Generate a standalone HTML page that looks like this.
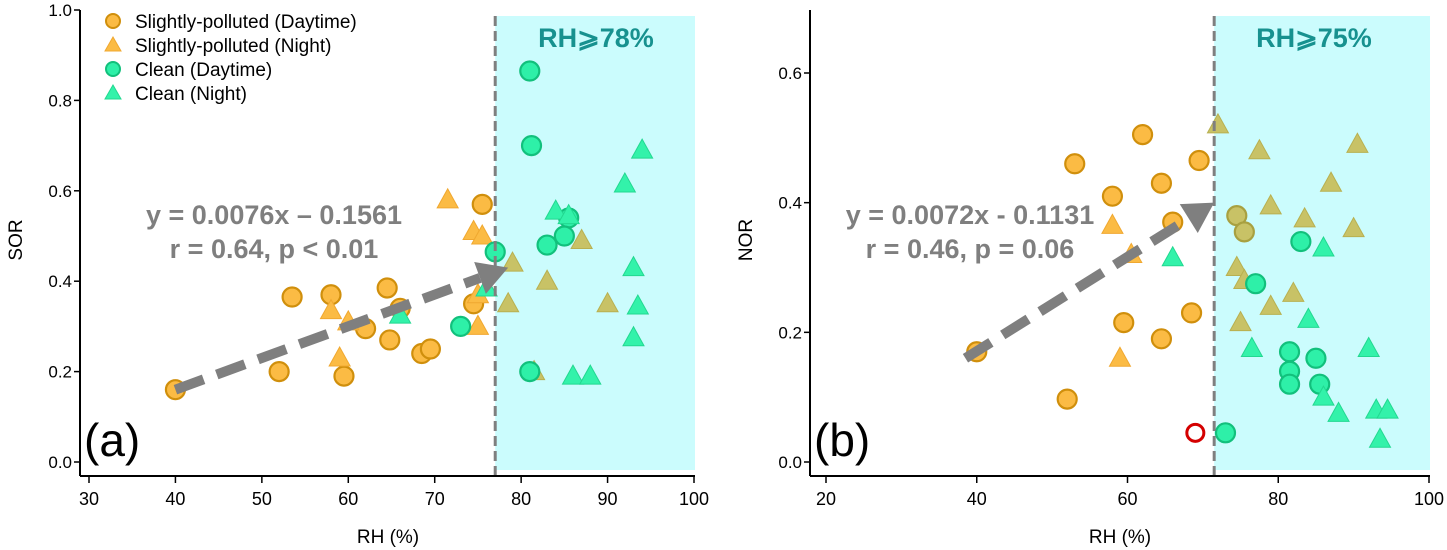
<!DOCTYPE html>
<html><head><meta charset="utf-8"><style>
body{margin:0;background:#fff;width:1447px;height:550px;overflow:hidden}
svg{display:block;font-family:"Liberation Sans",sans-serif}
</style></head><body>
<svg id="chart" width="1447" height="550"></svg>
<script>
// ---- Panel (a) data: [RH, SOR]
const aPolDay = [[40,0.16],[52,0.2],[53.5,0.365],[58,0.37],[59.5,0.19],[62,0.295],[64.5,0.385],[64.8,0.27],[66,0.34],[68.5,0.24],[69.5,0.25],[74.5,0.35],[75.5,0.57]];
const aPolNight = [[58,0.335],[59,0.23],[60,0.31],[71.5,0.58],[74.5,0.51],[75.5,0.5],[75,0.37],[75,0.3],[81.5,0.2],[79,0.44],[78.5,0.35],[83,0.4],[87,0.49],[90,0.35]];
const aCleanDay = [[81,0.865],[81.2,0.7],[85.5,0.54],[85,0.5],[83,0.48],[77,0.465],[73,0.3],[81,0.2]];
const aCleanNight = [[84,0.555],[85.5,0.545],[92,0.615],[94,0.69],[93,0.43],[93.5,0.345],[93,0.275],[76,0.385],[66,0.325],[86,0.19],[88,0.19]];
const aXTicks = [30,40,50,60,70,80,90,100];
const aYTicks = [0.0,0.2,0.4,0.6,0.8,1.0];
const aThreshold = 77;
const aArrow = [[40,0.16],[78.5,0.43]];
// ---- Panel (b) data: [RH, NOR]
const bPolDay = [[40,0.17],[52,0.097],[53,0.46],[58,0.41],[59.5,0.215],[62,0.505],[64.5,0.43],[64.5,0.19],[66,0.37],[68.5,0.23],[69.5,0.465],[74.5,0.38],[75.5,0.355]];
const bOutlier = [[69,0.045]];
const bPolNight = [[58,0.365],[60.5,0.32],[59,0.16],[72,0.52],[74.5,0.3],[75,0.215],[75.5,0.28],[77.5,0.48],[79,0.395],[79,0.24],[82,0.26],[83.5,0.375],[87,0.43],[90,0.36],[90.5,0.49]];
const bCleanDay = [[77,0.275],[83,0.34],[81.5,0.17],[81.5,0.14],[81.5,0.12],[85,0.16],[85.5,0.12],[73,0.045]];
const bCleanNight = [[66,0.315],[76.5,0.175],[84,0.22],[86,0.33],[86,0.1],[88,0.075],[92,0.175],[93,0.08],[94.5,0.08],[93.5,0.035]];
const bXTicks = [20,40,60,80,100];
const bYTicks = [0.0,0.2,0.4,0.6];
const bThreshold = 71.5;
const bArrow = [[38.5,0.16],[71.5,0.4]];

const NS="http://www.w3.org/2000/svg";
const svg=document.getElementById('chart');
function mk(tag,attrs,parent){const e=document.createElementNS(NS,tag);for(const k in attrs)e.setAttribute(k,attrs[k]);(parent||svg).appendChild(e);return e;}

function panel(cfg){
  const g=mk('g',{});
  
  
  const sx=v=>cfg.x0px+(v-cfg.xmin)*(cfg.x1px-cfg.x0px)/(cfg.xmax-cfg.xmin);
  const sy=v=>cfg.y0px-(v-cfg.ymin)*(cfg.y0px-cfg.y1px)/(cfg.ymax-cfg.ymin);
  const shade=mk('rect',{x:sx(cfg.thr),y:16,width:cfg.right-sx(cfg.thr),height:470-16,fill:'#cbfcfd'},g);
  
  
  const pts=mk('g',{},g);
  const inR=p=>p[0]>=cfg.thr;
  for(const p of cfg.polDay){const c=mk('circle',{cx:sx(p[0]),cy:sy(p[1]),r:9.5,fill:inR(p)?'#c8c266':'#fbbb44',stroke:inR(p)?'#a8a040':'#d08f0c','stroke-width':2.2},pts);
    
    }
  for(const p of cfg.polNight){const x=sx(p[0]),y=sy(p[1]);const t=mk('polygon',{points:`${x},${y-11} ${x-10.5},${y+8} ${x+10.5},${y+8}`,fill:inR(p)?'#c8c266':'#fbbb44',stroke:inR(p)?'#b8b050':'#f0a830','stroke-width':1},pts);
    
    }
  if(cfg.outlier){for(const p of cfg.outlier){const c=mk('circle',{cx:sx(p[0]),cy:sy(p[1]),r:8.5,fill:'none',stroke:'#d40000','stroke-width':3},pts);
    
    }}
  for(const p of cfg.cleanDay){const c=mk('circle',{cx:sx(p[0]),cy:sy(p[1]),r:9.5,fill:'#2ef0a8',stroke:'#12c07c','stroke-width':2.2},pts);
    
    }
  for(const p of cfg.cleanNight){const x=sx(p[0]),y=sy(p[1]);const t=mk('polygon',{points:`${x},${y-11} ${x-10.5},${y+8} ${x+10.5},${y+8}`,fill:'#33f2aa',stroke:'#22d890','stroke-width':1},pts);
    
    }
  const dl=mk('line',{x1:sx(cfg.thr),x2:sx(cfg.thr),y1:16,y2:476,stroke:'#7f7f7f','stroke-width':3,'stroke-dasharray':'10,5'},g);
  
  
  const ax1=sx(cfg.arrow[0][0]),ay1=sy(cfg.arrow[0][1]),ax2=sx(cfg.arrow[1][0]),ay2=sy(cfg.arrow[1][1]);
  const ang=Math.atan2(ay2-ay1,ax2-ax1),hl=30,hw=17;
  const bx=ax2-hl*Math.cos(ang),by=ay2-hl*Math.sin(ang);
  const ar=mk('g',{},g);
  
  
  mk('line',{x1:ax1,y1:ay1,x2:bx,y2:by,stroke:'#7f7f7f','stroke-width':10,'stroke-dasharray':'30,14'},ar);
  mk('polygon',{points:`${ax2},${ay2} ${bx-hw*Math.sin(ang)},${by+hw*Math.cos(ang)} ${bx+hw*Math.sin(ang)},${by-hw*Math.cos(ang)}`,fill:'#7f7f7f'},ar);
  const ya=mk('line',{x1:cfg.axX,x2:cfg.axX,y1:10,y2:476,stroke:'#000','stroke-width':2},g);
  
  
  const xa=mk('line',{x1:cfg.axX,x2:cfg.right,y1:476,y2:476,stroke:'#000','stroke-width':2},g);
  
  
  for(const t of cfg.xticks){mk('line',{x1:sx(t),x2:sx(t),y1:476,y2:483,stroke:'#000','stroke-width':1.5},g);
    const tx=mk('text',{x:sx(t),y:505,'font-size':18,'text-anchor':'middle'},g);tx.textContent=t;
    
    }
  for(const t of cfg.yticks){mk('line',{x1:cfg.axX-6,x2:cfg.axX,y1:sy(t),y2:sy(t),stroke:'#000','stroke-width':1.5},g);
    const tx=mk('text',{x:cfg.axX-8,y:sy(t)+6,'font-size':17,'text-anchor':'end'},g);tx.textContent=t.toFixed(1);
    
    }
  const xt=mk('text',{x:cfg.xTitleX,y:543,'font-size':19,'text-anchor':'middle'},g);xt.textContent='RH (%)';
  
  
  const yt=mk('text',{x:0,y:0,'font-size':19,'text-anchor':'middle',transform:`translate(${cfg.yTitleX},240) rotate(-90)`},g);yt.textContent=cfg.ylabel;
  
  
  const rt=mk('text',{x:cfg.rhX,y:47,'font-size':27,'font-weight':'bold',fill:'#17918f','text-anchor':'middle'},g);rt.textContent=cfg.rhText;
  
  
  const e1=mk('text',{x:cfg.eqX,y:224,'font-size':27,'font-weight':'bold',fill:'#7f7f7f','text-anchor':'middle'},g);e1.textContent=cfg.eq1;
  
  
  const e2=mk('text',{x:cfg.eqX,y:258,'font-size':27,'font-weight':'bold',fill:'#7f7f7f','text-anchor':'middle'},g);e2.textContent=cfg.eq2;
  
  
  const pl=mk('text',{x:cfg.axX+4,y:456,'font-size':46},g);pl.textContent=cfg.plabel;
  
  
}
panel({name:'panel-a',xmin:30,xmax:100,x0px:89,x1px:694,ymin:0,ymax:1,y0px:462,y1px:10,right:695,axX:80,
  thr:aThreshold,polDay:aPolDay,polNight:aPolNight,cleanDay:aCleanDay,cleanNight:aCleanNight,arrow:aArrow,
  xticks:aXTicks,yticks:aYTicks,xTitleX:388,yTitleX:22,ylabel:'SOR',rhX:596,rhText:'RH\u2A7E78%',
  eqX:274,eq1:'y = 0.0076x \u2013 0.1561',eq2:'r = 0.64, p < 0.01',plabel:'(a)'});
panel({name:'panel-b',xmin:20,xmax:100,x0px:826,x1px:1429,ymin:0,ymax:0.6,y0px:462,y1px:73,right:1430,axX:810,
  thr:bThreshold,polDay:bPolDay,polNight:bPolNight,cleanDay:bCleanDay,cleanNight:bCleanNight,outlier:bOutlier,arrow:bArrow,
  xticks:bXTicks,yticks:bYTicks,xTitleX:1120,yTitleX:752,ylabel:'NOR',rhX:1314,rhText:'RH\u2A7E75%',
  eqX:970,eq1:'y = 0.0072x - 0.1131',eq2:'r = 0.46, p = 0.06',plabel:'(b)'});
const lg=mk('g',{});


const legItems=[['c','#fbbb44','#d08f0c','Slightly-polluted (Daytime)'],['t','#fbbb44','#f0a830','Slightly-polluted (Night)'],['c','#2ef0a8','#12c07c','Clean (Daytime)'],['t','#33f2aa','#22d890','Clean (Night)']];
legItems.forEach((it,i)=>{const y=21+i*24;const x=113;
  if(it[0]=='c')mk('circle',{cx:x,cy:y,r:7,fill:it[1],stroke:it[2],'stroke-width':2},lg);
  else mk('polygon',{points:`${x},${y-8} ${x-8},${y+6} ${x+8},${y+6}`,fill:it[1],stroke:it[2]},lg);
  const t=mk('text',{x:135,y:y+7,'font-size':19},lg);t.textContent=it[3];
  
  
});
</script>
</body></html>
